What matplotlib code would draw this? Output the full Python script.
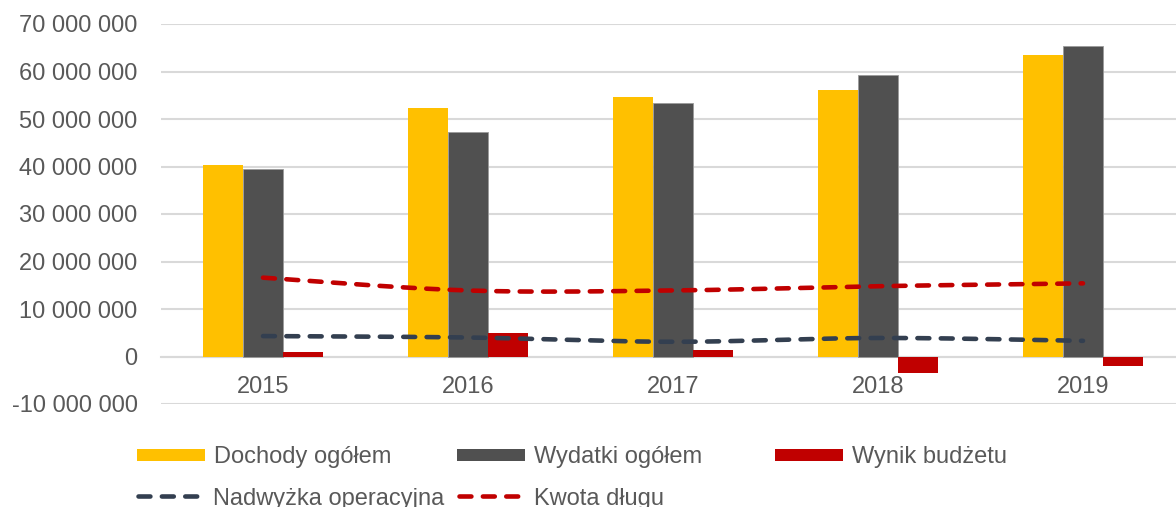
import numpy as np
import matplotlib.pyplot as plt
from matplotlib.patches import Rectangle
from matplotlib.lines import Line2D
from matplotlib.ticker import FuncFormatter

plt.rcParams['font.family'] = ['Liberation Sans', 'DejaVu Sans']

years = ['2015', '2016', '2017', '2018', '2019']
dochody = [40.3e6, 52.4e6, 54.7e6, 56.1e6, 63.5e6]
wydatki = [39.4e6, 47.2e6, 53.3e6, 59.3e6, 65.3e6]
wynik = [0.9e6, 5.0e6, 1.3e6, -3.4e6, -1.9e6]
nadwyzka = [4.3e6, 4.0e6, 3.1e6, 3.9e6, 3.3e6]
dlug = [16.6e6, 13.9e6, 13.9e6, 14.8e6, 15.4e6]

YELLOW = '#FFC000'
GRAY = '#505050'
RED = '#C00000'
NAVY = '#333F50'
TXT = '#595959'
FS = 17


def smooth(xs, ys, n=40):
    # catmull-rom like excel's smoothed line
    p = np.column_stack([xs, ys]).astype(float)
    p = np.vstack([p[0], p, p[-1]])
    out = []
    for i in range(1, len(p) - 2):
        p0, p1, p2, p3 = p[i - 1], p[i], p[i + 1], p[i + 2]
        c1 = p1 + (p2 - p0) / 6
        c2 = p2 - (p3 - p1) / 6
        t = np.linspace(0, 1, n)[:, None]
        seg = (1 - t) ** 3 * p1 + 3 * (1 - t) ** 2 * t * c1 + 3 * (1 - t) * t ** 2 * c2 + t ** 3 * p2
        out.append(seg if i == 1 else seg[1:])
    out = np.vstack(out)
    return out[:, 0], out[:, 1]


fig = plt.figure(figsize=(11.76, 5.07), dpi=100)
ax = fig.add_axes([160.5 / 1176, 103 / 507, 1025 / 1176, 380 / 507])

x = np.arange(len(years))
w = 0.1937
ax.bar(x - w, dochody, w, color=YELLOW, zorder=2)
ax.bar(x, wydatki, w, color=GRAY, edgecolor='#9a9a9a', linewidth=0.6, zorder=2)
ax.bar(x + w, wynik, w, color=RED, zorder=2)

lw = 3.3
dash = (2.6, 2.5)
for vals, col in [(nadwyzka, NAVY), (dlug, RED)]:
    sx, sy = smooth(x, vals)
    ax.plot(sx, sy, color=col, lw=lw, dashes=dash, dash_capstyle='round', zorder=3)

ax.set_xlim(-0.5, 4.5)
ax.set_ylim(-10e6, 70e6)
ax.set_yticks(np.arange(-10e6, 70e6 + 1, 10e6))
ax.yaxis.set_major_formatter(FuncFormatter(lambda v, p: f'{int(round(v)):,}'.replace(',', ' ')))
ax.grid(axis='y', color='#D9D9D9', lw=1.5, zorder=0)
ax.set_axisbelow(True)
for s in ['top', 'right', 'left']:
    ax.spines[s].set_visible(False)
ax.spines['bottom'].set_position(('data', 0))
ax.spines['bottom'].set_color('#D9D9D9')
ax.spines['bottom'].set_linewidth(1.5)
ax.spines['bottom'].set_zorder(1)
ax.set_xticks(x)
ax.set_xticklabels(years)
ax.tick_params(axis='x', length=0, pad=14, labelsize=FS, labelcolor=TXT)
ax.tick_params(axis='y', length=0, pad=16.5, labelsize=FS, labelcolor=TXT)

# legend, laid out like the excel one
H = 507.0
W = 1176.0
entries = [
    ('patch', YELLOW, 'Dochody ogółem', 137, 455),
    ('patch', GRAY, 'Wydatki ogółem', 457, 455),
    ('patch', RED, 'Wynik budżetu', 775, 455),
    ('line', NAVY, 'Nadwyżka operacyjna', 136, 496),
    ('line', RED, 'Kwota długu', 457, 496),
]
for kind, col, label, x0, yc in entries:
    if kind == 'patch':
        fig.add_artist(Rectangle((x0 / W, (H - yc - 6) / H), 68 / W, 12 / H,
                                 transform=fig.transFigure, color=col, lw=0))
    else:
        fig.add_artist(Line2D([(x0 + 2) / W, (x0 + 64) / W], [(H - yc) / H] * 2,
                              transform=fig.transFigure, color=col, lw=lw,
                              dashes=dash, dash_capstyle='round'))
    fig.text((x0 + 77) / W, (H - yc) / H, label, fontsize=FS, color=TXT,
             ha='left', va='center_baseline')

fig.savefig('out.png', dpi=100)
